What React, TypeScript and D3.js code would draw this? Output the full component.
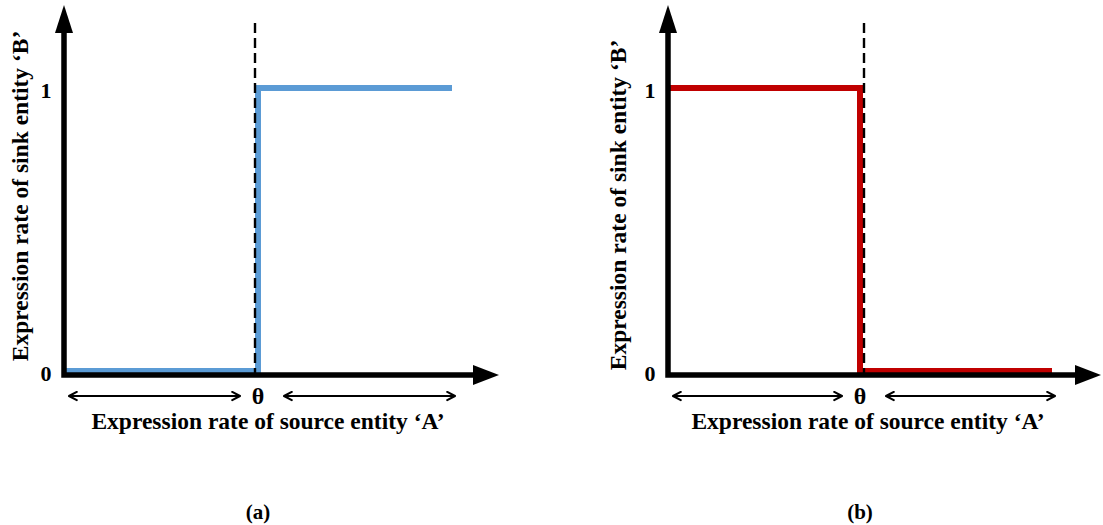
import { useMemo } from "react";
import { scaleLinear, line, curveLinear } from "d3";

// x positions in units of the threshold θ (0 … θ … 2θ)
const stepX = [0, 1, 1, 2];
const activation = [0, 0, 1, 1];
const inhibition = [1, 1, 0, 0];
const yTicks = [0, 1];
const THETA = 1;

const xLabel = "Expression rate of source entity \u2018A\u2019";
const yLabel = "Expression rate of sink entity \u2018B\u2019";

const W = 1103;
const H = 525;
const FONT = "'Liberation Serif', 'Times New Roman', serif";

const panels = [
  { id: "a", x0: 64, x1: 452, tip: 499, values: activation, color: "#5B9BD5", nudge: -3, yLabelX: 20, yLabelY: 196, xLabelX: 268, tag: "(a)" },
  { id: "b", x0: 668, x1: 1052, tip: 1101, values: inhibition, color: "#C00000", nudge: 4, yLabelX: 618, yLabelY: 205, xLabelX: 868, tag: "(b)" },
];

const yScale = scaleLinear().domain([0, 1]).range([375, 88]);

function Panel({ p }) {
  const xScale = useMemo(() => scaleLinear().domain([0, 2]).range([p.x0, p.x1]), [p]);
  const lw = 6;
  const pts = stepX.map((x, i) => [x, p.values[i]]);
  const path = line()
    .x((d) => xScale(d[0]))
    // keep the 0-level line sitting on top of the axis
    .y((d) => (d[1] === 0 ? yScale(0) - lw / 2 - 1 : yScale(d[1])))
    .curve(curveLinear)(pts);

  const y0 = yScale(0);
  const xt = xScale(THETA);
  const arrowY = 396;

  return (
    <g>
      {/* step curve */}
      <path d={path} fill="none" stroke={p.color} strokeWidth={lw} strokeLinejoin="miter" strokeLinecap="butt" />
      {/* threshold */}
      <line x1={xt + p.nudge} x2={xt + p.nudge} y1={23} y2={y0} stroke="#000" strokeWidth={2.4} strokeDasharray="10,5" />
      {/* axes */}
      <path d={`M${p.x0},31 L${p.x0},${y0} L${p.tip - 24},${y0}`} fill="none" stroke="#000" strokeWidth={5.5} />
      <path d={`M${p.x0},5 L${p.x0 - 9},33 L${p.x0 + 9},33 Z`} fill="#000" />
      <path d={`M${p.tip},${y0} L${p.tip - 26},${y0 - 10} L${p.tip - 26},${y0 + 10} Z`} fill="#000" />
      {/* ticks */}
      {yTicks.map((t) => (
        <text key={t} x={p.x0 - 18} y={yScale(t) + (t === 0 ? 6 : 10)} textAnchor="middle" fontFamily={FONT} fontWeight="bold" fontSize={22}>
          {t}
        </text>
      ))}
      <text x={xt} y={404} textAnchor="middle" fontFamily={FONT} fontWeight="bold" fontSize={24}>
        θ
      </text>
      {/* range arrows */}
      <line x1={xScale(0) + 5} x2={xt - 18} y1={arrowY} y2={arrowY} stroke="#000" strokeWidth={2} markerStart="url(#open)" markerEnd="url(#open)" />
      <line x1={xt + 26} x2={xScale(2) + 3} y1={arrowY} y2={arrowY} stroke="#000" strokeWidth={2} markerStart="url(#open)" markerEnd="url(#open)" />
      {/* labels */}
      <text x={p.xLabelX} y={429} textAnchor="middle" fontFamily={FONT} fontWeight="bold" fontSize={23.5}>
        {xLabel}
      </text>
      <text
        transform={`translate(${p.yLabelX},${p.yLabelY}) rotate(-90)`}
        textAnchor="middle"
        dominantBaseline="central"
        fontFamily={FONT}
        fontWeight="bold"
        fontSize={23.5}
      >
        {yLabel}
      </text>
      <text x={xt} y={519} textAnchor="middle" fontFamily={FONT} fontWeight="bold" fontSize={21}>
        {p.tag}
      </text>
    </g>
  );
}

export default function App() {
  return (
    <svg
      width={W}
      height={H}
      viewBox={`0 0 ${W} ${H}`}
      style={{ position: "absolute", left: 0, top: 0, background: "#fff" }}
    >
      <defs>
        <marker id="open" viewBox="0 0 12 12" refX="10.5" refY="6" markerWidth="11" markerHeight="11" orient="auto-start-reverse" markerUnits="userSpaceOnUse">
          <path d="M2,1.5 L10.5,6 L2,10.5" fill="none" stroke="#000" strokeWidth={2.2} strokeLinejoin="round" strokeLinecap="round" />
        </marker>
      </defs>
      <rect width={W} height={H} fill="#fff" />
      {panels.map((p) => (
        <Panel key={p.id} p={p} />
      ))}
    </svg>
  );
}
